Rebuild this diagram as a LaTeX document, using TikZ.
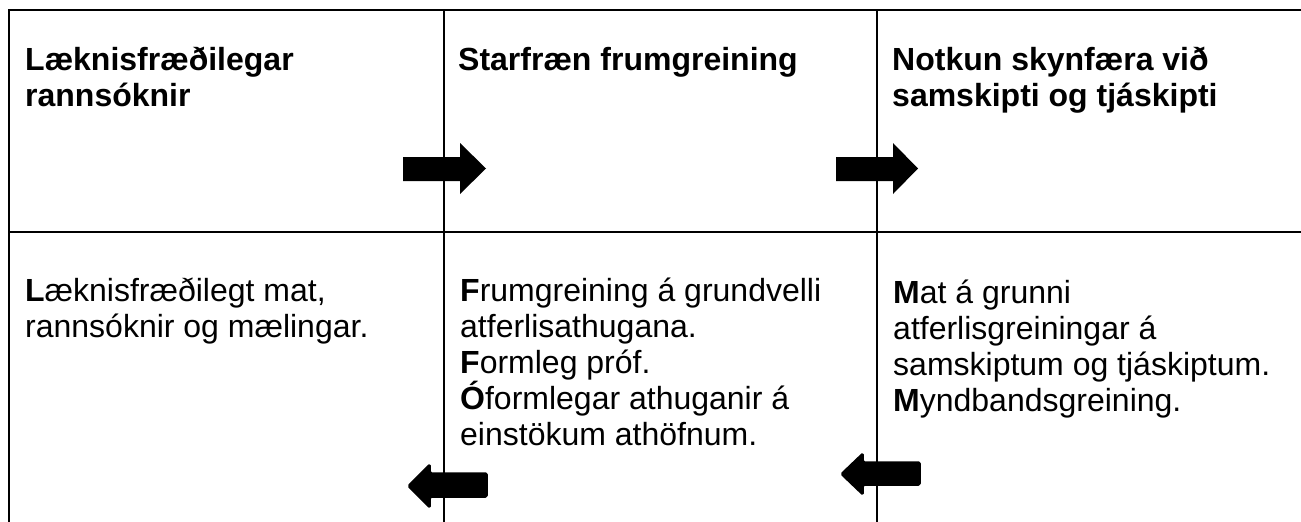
\documentclass[tikz,border=0pt]{standalone}
\usepackage{fontspec}
\setmainfont{Liberation Sans}
\begin{document}
\begin{tikzpicture}[x=1pt,y=-1pt,
  rule/.style={line width=2pt,black},
  cell/.style={anchor=base west,inner sep=0pt},
  arrowshape/.style={fill=black,draw=none},
  roundarrow/.style={fill=black,draw=black,line width=1.5pt,line join=round,rounded corners=1.5pt}]
\useasboundingbox (0,0) rectangle (1301,522);
% grid
\draw[rule] (9,10) -- (1301,10);
\draw[rule] (9,232) -- (1301,232);
\draw[rule] (9,9) -- (9,522);
\draw[rule] (444,9) -- (444,522);
\draw[rule] (877,9) -- (877,522);
% headers
\newcommand{\cellbox}[1]{\parbox[t]{420pt}{\fontsize{32}{36}\selectfont\raggedright #1}}
\node[cell] (h1) at (25,70) {\cellbox{\bfseries Læknisfræðilegar\\rannsóknir}};
\node[cell] (h2) at (458,70) {\cellbox{\bfseries Starfræn frumgreining}};
\node[cell] (h3) at (892,70) {\cellbox{\bfseries Notkun skynfæra við\\samskipti og tjáskipti}};
% bodies
\node[cell] (b1) at (25,301) {\cellbox{\textbf{L}æknisfræðilegt mat,\\rannsóknir og mælingar.}};
\node[cell] (b2) at (460,301) {\cellbox{\textbf{F}rumgreining á grundvelli\\atferlisathugana.\\\textbf{F}ormleg próf.\\\textbf{Ó}formlegar athuganir á\\einstökum athöfnum.}};
\node[cell] (b3) at (893,303) {\cellbox{\textbf{M}at á grunni\\atferlisgreiningar á\\samskiptum og tjáskiptum.\\\textbf{M}yndbandsgreining.}};
% arrows right
\fill[arrowshape] (403,157) -- (460,157) -- (460,143) -- (486,168.5) -- (460,194) -- (460,181) -- (403,181) -- cycle;
\fill[arrowshape] (836,157) -- (893,157) -- (893,143) -- (918,168.5) -- (893,194) -- (893,181) -- (836,181) -- cycle;
% arrows left
\filldraw[roundarrow] (487,473) -- (430,473) -- (430,464) -- (408,486) -- (430,508) -- (430,497) -- (487,497) -- cycle;
\filldraw[roundarrow] (920,462) -- (863,462) -- (863,453) -- (841,474) -- (863,495) -- (863,485) -- (920,485) -- cycle;
\end{tikzpicture}
\end{document}
